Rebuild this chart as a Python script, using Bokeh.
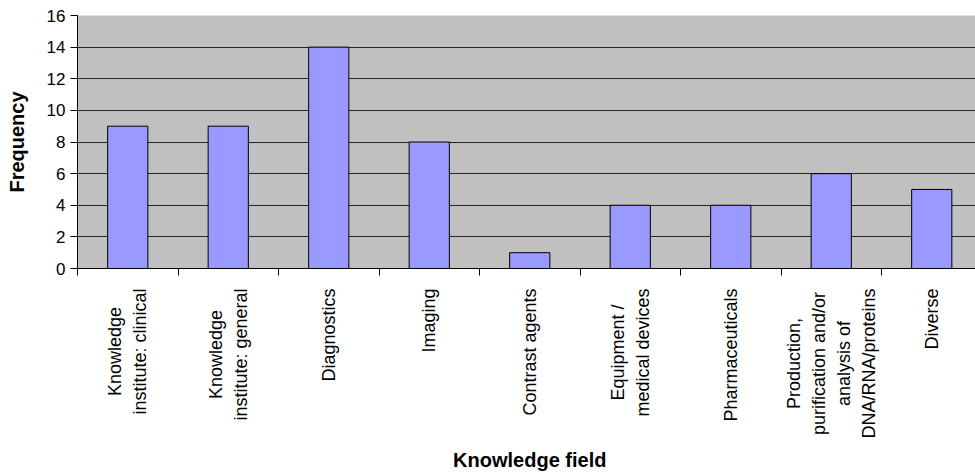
import math
from bokeh.plotting import figure
from bokeh.layouts import column
from bokeh.models import ColumnDataSource, FixedTicker, Range1d, Label
from bokeh.embed import file_html
from bokeh.resources import INLINE

# Number of items per knowledge field
categories = [
    "Knowledge\ninstitute: clinical",
    "Knowledge\ninstitute: general",
    "Diagnostics",
    "Imaging",
    "Contrast agents",
    "Equipment /\nmedical devices",
    "Pharmaceuticals",
    "Production,\npurification and/or\nanalysis of\nDNA/RNA/proteins",
    "Diverse",
]
frequency = [9, 9, 14, 8, 1, 4, 4, 6, 5]
y_ticks = [0, 2, 4, 6, 8, 10, 12, 14, 16]

FONT = "Liberation Sans"

# Categories sit at the centres of unit-wide slots
centers = [i + 0.5 for i in range(len(categories))]
bounds = list(range(len(categories) + 1))

W = 975
LEFT, TOP = 77, 15
FRAME_H = 253          # height of the 0..16 plotting area
AXIS_H = 10            # room under the frame for the boundary ticks
LABELS_H = 474 - TOP - FRAME_H - AXIS_H
slot_px = 100.5
x_range = Range1d(0, (W - LEFT) / slot_px)

# ---- bar chart -------------------------------------------------------------
p = figure(
    width=W, height=TOP + FRAME_H + AXIS_H,
    x_range=x_range, y_range=Range1d(0, 16),
    output_backend="svg", toolbar_location=None,
    min_border_left=LEFT, min_border_right=0,
    min_border_top=TOP, min_border_bottom=AXIS_H,
)
p.background_fill_color = "#C0C0C0"
p.border_fill_color = "white"
p.outline_line_color = None

src = ColumnDataSource(dict(x=centers, top=frequency))
p.vbar(x="x", top="top", width=0.4, source=src,
       fill_color="#9999FF", line_color="black", line_width=1)

# Horizontal gridlines
p.xgrid.visible = False
p.ygrid.grid_line_color = "#262626"
p.ygrid.grid_line_width = 1.2
p.ygrid.ticker = FixedTicker(ticks=y_ticks)

# Y axis
ya = p.yaxis[0]
ya.ticker = FixedTicker(ticks=y_ticks)
ya.axis_line_color = "black"
ya.major_tick_line_color = "black"
ya.major_tick_out = 7
ya.major_tick_in = 0
ya.minor_tick_line_color = None
ya.major_label_text_font = FONT
ya.major_label_text_font_size = "17px"
ya.major_label_text_color = "black"
ya.major_label_standoff = 5
ya.axis_label = "Frequency"
ya.axis_label_text_font = FONT
ya.axis_label_text_font_style = "bold"
ya.axis_label_text_font_size = "20px"
ya.axis_label_text_color = "black"
ya.axis_label_standoff = 16

# X axis: only the line and tick marks at the slot boundaries
xa = p.xaxis[0]
xa.ticker = FixedTicker(ticks=centers, minor_ticks=bounds)
xa.major_label_overrides = {c: "" for c in centers}
xa.major_label_text_font_size = "1px"
xa.major_label_standoff = 0
xa.axis_line_color = "black"
xa.major_tick_line_color = None
xa.major_tick_out = 0
xa.major_tick_in = 0
xa.minor_tick_line_color = "black"
xa.minor_tick_out = 7
xa.minor_tick_in = 0

# ---- category names and axis title underneath ------------------------------
q = figure(
    width=W, height=LABELS_H,
    x_range=x_range, y_range=Range1d(0, LABELS_H),   # pixels from the bottom
    output_backend="svg", toolbar_location=None,
    min_border_left=LEFT, min_border_right=0,
    min_border_top=0, min_border_bottom=0,
)
q.axis.visible = False
q.grid.visible = False
q.outline_line_color = None
q.background_fill_color = "white"
q.border_fill_color = "white"

# Rotated names, lines centred, upper end a fixed gap below the axis
gap_px = 10
for c, lab in zip(centers, categories):
    q.add_layout(Label(
        x=c, y=LABELS_H - gap_px, text=lab, angle=math.pi / 2,
        anchor="center_right", text_align="center",
        text_font=FONT, text_font_size="18px", text_color="black",
        text_line_height=1.25,
    ))

q.add_layout(Label(
    x=len(categories) / 2, y=15, text="Knowledge field",
    text_align="center", text_baseline="middle",
    text_font=FONT, text_font_style="bold", text_font_size="20px",
    text_color="black",
))

open("out.html", "w").write(file_html(column(p, q, spacing=0), INLINE))
